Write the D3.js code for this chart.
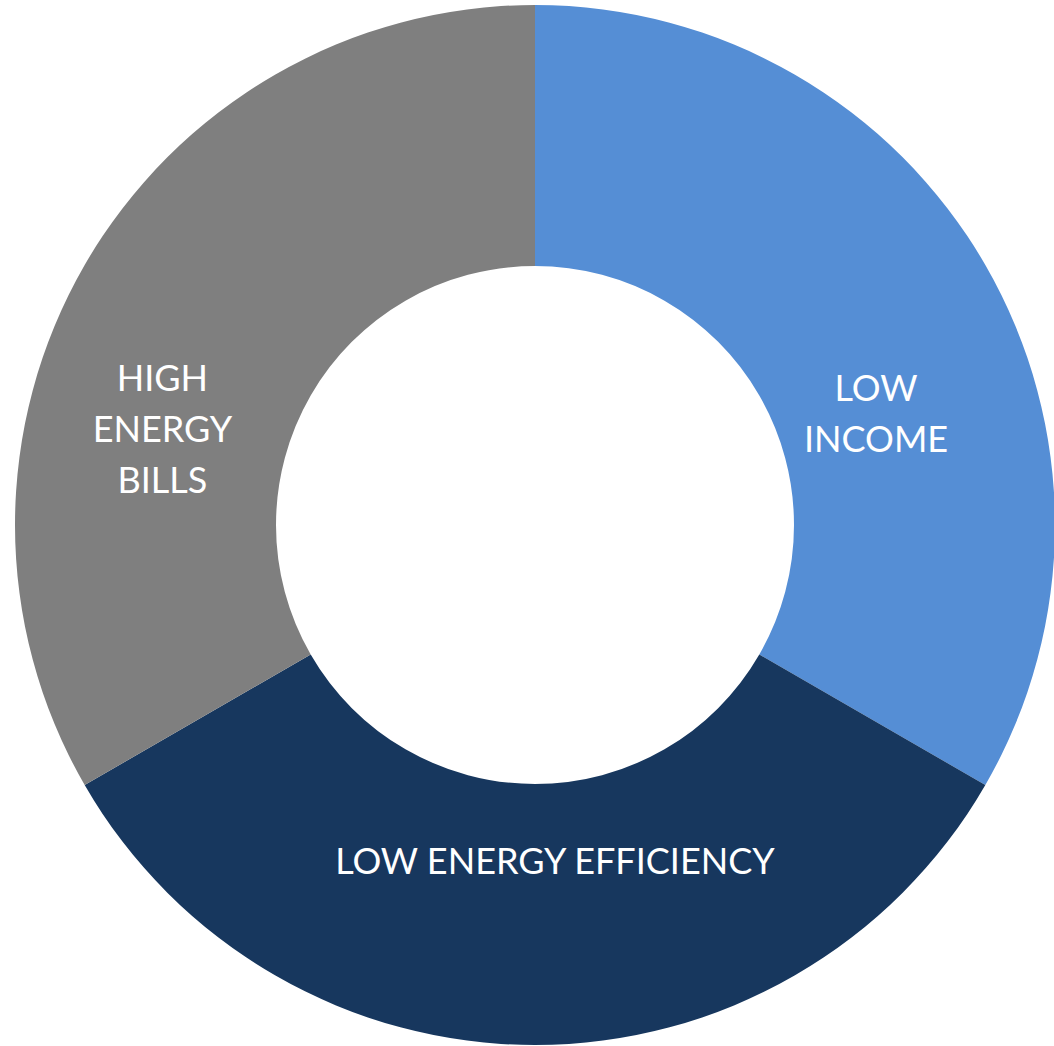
<!DOCTYPE html>
<html>
<head>
<meta charset="utf-8">
<script src="https://cdn.jsdelivr.net/npm/d3@7"></script>
<style>
  html, body { margin: 0; padding: 0; background: #fff; }
  svg { display: block; }
</style>
</head>
<body>
<div id="chart"></div>
<script>
var categories = ['LOW INCOME', 'LOW ENERGY EFFICIENCY', 'HIGH ENERGY BILLS'];
var values = [1, 1, 1];
var colors = ['#558ED5', '#17375E', '#7F7F7F'];
// label lines as drawn in the picture
var labelLines = [['LOW', 'INCOME'], ['LOW ENERGY EFFICIENCY'], ['HIGH', 'ENERGY', 'BILLS']];

var width = 1054, height = 1046;
var cx = 535, cy = 525;
var outerR = 520, innerR = 259;

// where each label sits: angle (deg, clockwise from top) and radius
var labelPlace = [[71.8, 359], [176.6, 336], [284.6, 385]];

var svg = d3.select('#chart').append('svg')
  .attr('width', width)
  .attr('height', height);

var g = svg.append('g')
  .attr('transform', 'translate(' + cx + ',' + cy + ')');

var pie = d3.pie().sort(null).value(function (d) { return d; });
var arc = d3.arc().innerRadius(innerR).outerRadius(outerR);

var arcs = pie(values);

g.selectAll('path.slice')
  .data(arcs)
  .enter()
  .append('path')
  .attr('class', 'slice')
  .attr('d', arc)
  .attr('fill', function (d, i) { return colors[i]; });

var lineH = 51;

var labels = g.selectAll('text.label')
  .data(arcs)
  .enter()
  .append('text')
  .attr('class', 'label')
  .attr('font-family', 'Lato, sans-serif')
  .attr('font-size', '36px')
  .attr('fill', '#fff')
  .attr('text-anchor', 'middle')
  .attr('transform', function (d, i) {
    var a = labelPlace[i][0] * Math.PI / 180, r = labelPlace[i][1];
    return 'translate(' + (r * Math.sin(a)) + ',' + (-r * Math.cos(a)) + ')';
  });

labels.each(function (d, i) {
  var lines = labelLines[i];
  var t = d3.select(this);
  lines.forEach(function (line, j) {
    t.append('tspan')
      .attr('x', 0)
      .attr('y', (j - (lines.length - 1) / 2) * lineH + 14)
      .text(line);
  });
});
</script>
</body>
</html>
